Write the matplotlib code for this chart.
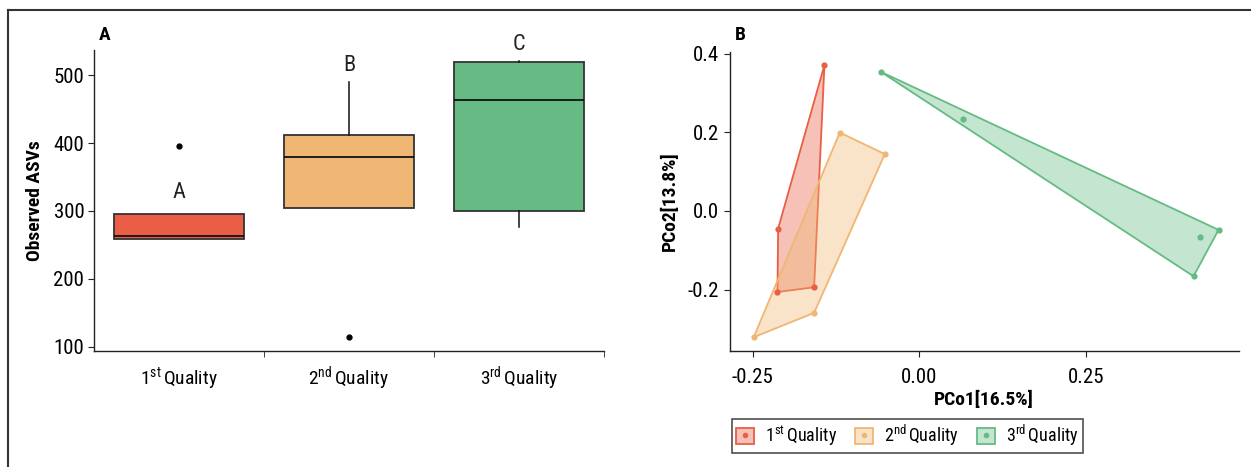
import matplotlib
matplotlib.use("Agg")
import matplotlib.pyplot as plt
import numpy as np
from matplotlib import font_manager
from matplotlib.lines import Line2D
from matplotlib.patches import Patch, Polygon

# ---- data: panel A (boxplot stats)
groups = ["1st", "2nd", "3rd"]
sups = ["st", "nd", "rd"]
q1 = [259.3, 304.0, 300.0]
med = [262.7, 379.3, 464.0]
q3 = [296.2, 412.2, 518.6]
whislo = [258.0, 304.0, 276.4]
whishi = [296.2, 490.6, 521.5]
fliers = [[396.0], [113.9], []]
letters = ["A", "B", "C"]
letter_y = [326.5, 513.7, 545.0]

# ---- data: panel B (PCoA coordinates)
pc1 = {
    "1st": [-0.1425, -0.212, -0.213, -0.158],
    "2nd": [-0.1195, -0.0519, -0.158, -0.2487],
    "3rd": [-0.058, 0.0652, 0.449, 0.4207, 0.4115],
}
pc2 = {
    "1st": [0.371, -0.0447, -0.206, -0.194],
    "2nd": [0.1995, 0.1447, -0.259, -0.321],
    "3rd": [0.354, 0.234, -0.048, -0.065, -0.166],
}

colors = ["#E95E44", "#F0B673", "#65BB83"]

# pick a narrow sans if one is installed
installed = {f.name for f in font_manager.fontManager.ttflist}
narrow = "DejaVu Sans"
for cand in ["Liberation Sans Narrow", "Roboto Condensed", "Open Sans Condensed",
             "Noto Sans Condensed", "Liberation Sans"]:
    if cand in installed:
        narrow = cand
        break
plt.rcParams["font.family"] = [narrow, "DejaVu Sans"]
plt.rcParams["mathtext.fontset"] = "custom"
plt.rcParams["mathtext.rm"] = narrow
plt.rcParams["mathtext.it"] = narrow
plt.rcParams["mathtext.bf"] = narrow


def hull(xs, ys):
    pts = sorted(set(zip(xs, ys)))

    def cross(o, a, b):
        return (a[0] - o[0]) * (b[1] - o[1]) - (a[1] - o[1]) * (b[0] - o[0])
    lower, upper = [], []
    for p in pts:
        while len(lower) >= 2 and cross(lower[-2], lower[-1], p) <= 0:
            lower.pop()
        lower.append(p)
    for p in reversed(pts):
        while len(upper) >= 2 and cross(upper[-2], upper[-1], p) <= 0:
            upper.pop()
        upper.append(p)
    return lower[:-1] + upper[:-1]


def qlabel(g, s):
    return g[0] + r"$^{\mathrm{" + s + r"}}\,$" + "Quality"


W, H = 1251, 467
fig = plt.figure(figsize=(W / 100, H / 100), dpi=100)

axc = "#222222"
tick_fs = 15

# ---------------- panel A
axA = fig.add_axes([94 / W, 1 - 351 / H, 510 / W, 301 / H])
stats = []
for i in range(3):
    stats.append(dict(med=med[i], q1=q1[i], q3=q3[i], whislo=whislo[i],
                      whishi=whishi[i], fliers=fliers[i]))
bp = axA.bxp(stats, positions=[1, 2, 3], widths=0.76, patch_artist=True,
             showcaps=False,
             boxprops=dict(edgecolor="#333333", linewidth=1.3),
             medianprops=dict(color="#111111", linewidth=1.3),
             whiskerprops=dict(color="#111111", linewidth=1.1),
             flierprops=dict(marker="o", markerfacecolor="black",
                             markeredgecolor="black", markersize=3.5))
for patch, c in zip(bp["boxes"], colors):
    patch.set_facecolor(c)
for i in range(3):
    axA.text(i + 1, letter_y[i], letters[i], ha="center", va="center",
             fontsize=16, color="#222222", clip_on=False)

axA.set_xlim(0.5, 3.5)
axA.set_ylim(93.7, 537)
axA.set_yticks([100, 200, 300, 400, 500])
axA.set_xticks([1, 2, 3])
axA.set_xticklabels([qlabel(g, s) for g, s in zip(groups, sups)], fontsize=14)
axA.set_xticks([1.5, 2.5, 3.5], minor=True)
axA.tick_params(axis="x", which="major", length=0, pad=10)
axA.tick_params(axis="x", which="minor", length=4, color=axc)
axA.tick_params(axis="y", length=4, color=axc, labelsize=tick_fs, pad=3)
axA.set_ylabel("Observed ASVs", fontsize=14, fontweight="bold", labelpad=7)
for sp in ["top", "right"]:
    axA.spines[sp].set_visible(False)
for sp in ["left", "bottom"]:
    axA.spines[sp].set_color(axc)
    axA.spines[sp].set_linewidth(1.0)
fig.text(99 / W, 1 - 35 / H, "A", fontsize=14, fontweight="bold",
         ha="left", va="center")

# ---------------- panel B
axB = fig.add_axes([729.5 / W, 1 - 351 / H, 509 / W, 299.3 / H])
handles = []
for g, s, c in zip(groups, sups, colors):
    xs, ys = pc1[g], pc2[g]
    h = hull(xs, ys)
    axB.add_patch(Polygon(h, closed=True, facecolor=c, alpha=0.38,
                          edgecolor="none"))
    axB.add_patch(Polygon(h, closed=True, facecolor="none", edgecolor=c,
                          linewidth=1.3))
    axB.plot(xs, ys, "o", color=c, markersize=4.5, markeredgewidth=0)
    handles.append((Patch(facecolor=c, alpha=0.38, edgecolor="none"),
                    Patch(facecolor="none", edgecolor=c, linewidth=1.3),
                    Line2D([], [], marker="o", linestyle="none", color=c,
                           markersize=4, markeredgewidth=0)))

axB.set_xlim(-0.285, 0.479)
axB.set_ylim(-0.356, 0.405)
axB.set_xticks([-0.25, 0.0, 0.25])
axB.set_xticklabels(["-0.25", "0.00", "0.25"])
axB.set_yticks([-0.2, 0.0, 0.2, 0.4])
axB.set_yticklabels(["-0.2", "0.0", "0.2", "0.4"])
axB.tick_params(length=4, color=axc, labelsize=tick_fs)
axB.tick_params(axis="x", pad=8)
axB.set_xlabel("PCo1[16.5%]", fontsize=14, fontweight="bold", labelpad=3)
axB.set_ylabel("PCo2[13.8%]", fontsize=14, fontweight="bold", labelpad=6)
for sp in ["top", "right"]:
    axB.spines[sp].set_visible(False)
for sp in ["left", "bottom"]:
    axB.spines[sp].set_color(axc)
    axB.spines[sp].set_linewidth(1.0)
fig.text(735 / W, 1 - 35 / H, "B", fontsize=14, fontweight="bold",
         ha="left", va="center")

leg = fig.legend(handles, [qlabel(g, s) for g, s in zip(groups, sups)],
                 loc="upper left", bbox_to_anchor=(731.5 / W, 1 - 418.7 / H),
                 ncol=3, fontsize=13, frameon=True, fancybox=False,
                 handlelength=1.0, handleheight=1.0, handletextpad=0.6,
                 columnspacing=1.0, borderpad=0.25, borderaxespad=0)
leg.get_frame().set_edgecolor("#222222")
leg.get_frame().set_linewidth(1.2)

# outer frame (top and left edges visible)
fig.add_artist(Line2D([8 / W, 1], [1 - 10 / H, 1 - 10 / H], color="#333333", lw=1.5))
fig.add_artist(Line2D([8 / W, 8 / W], [0, 1 - 10 / H], color="#333333", lw=1.5))

fig.savefig("out.png", dpi=100)
